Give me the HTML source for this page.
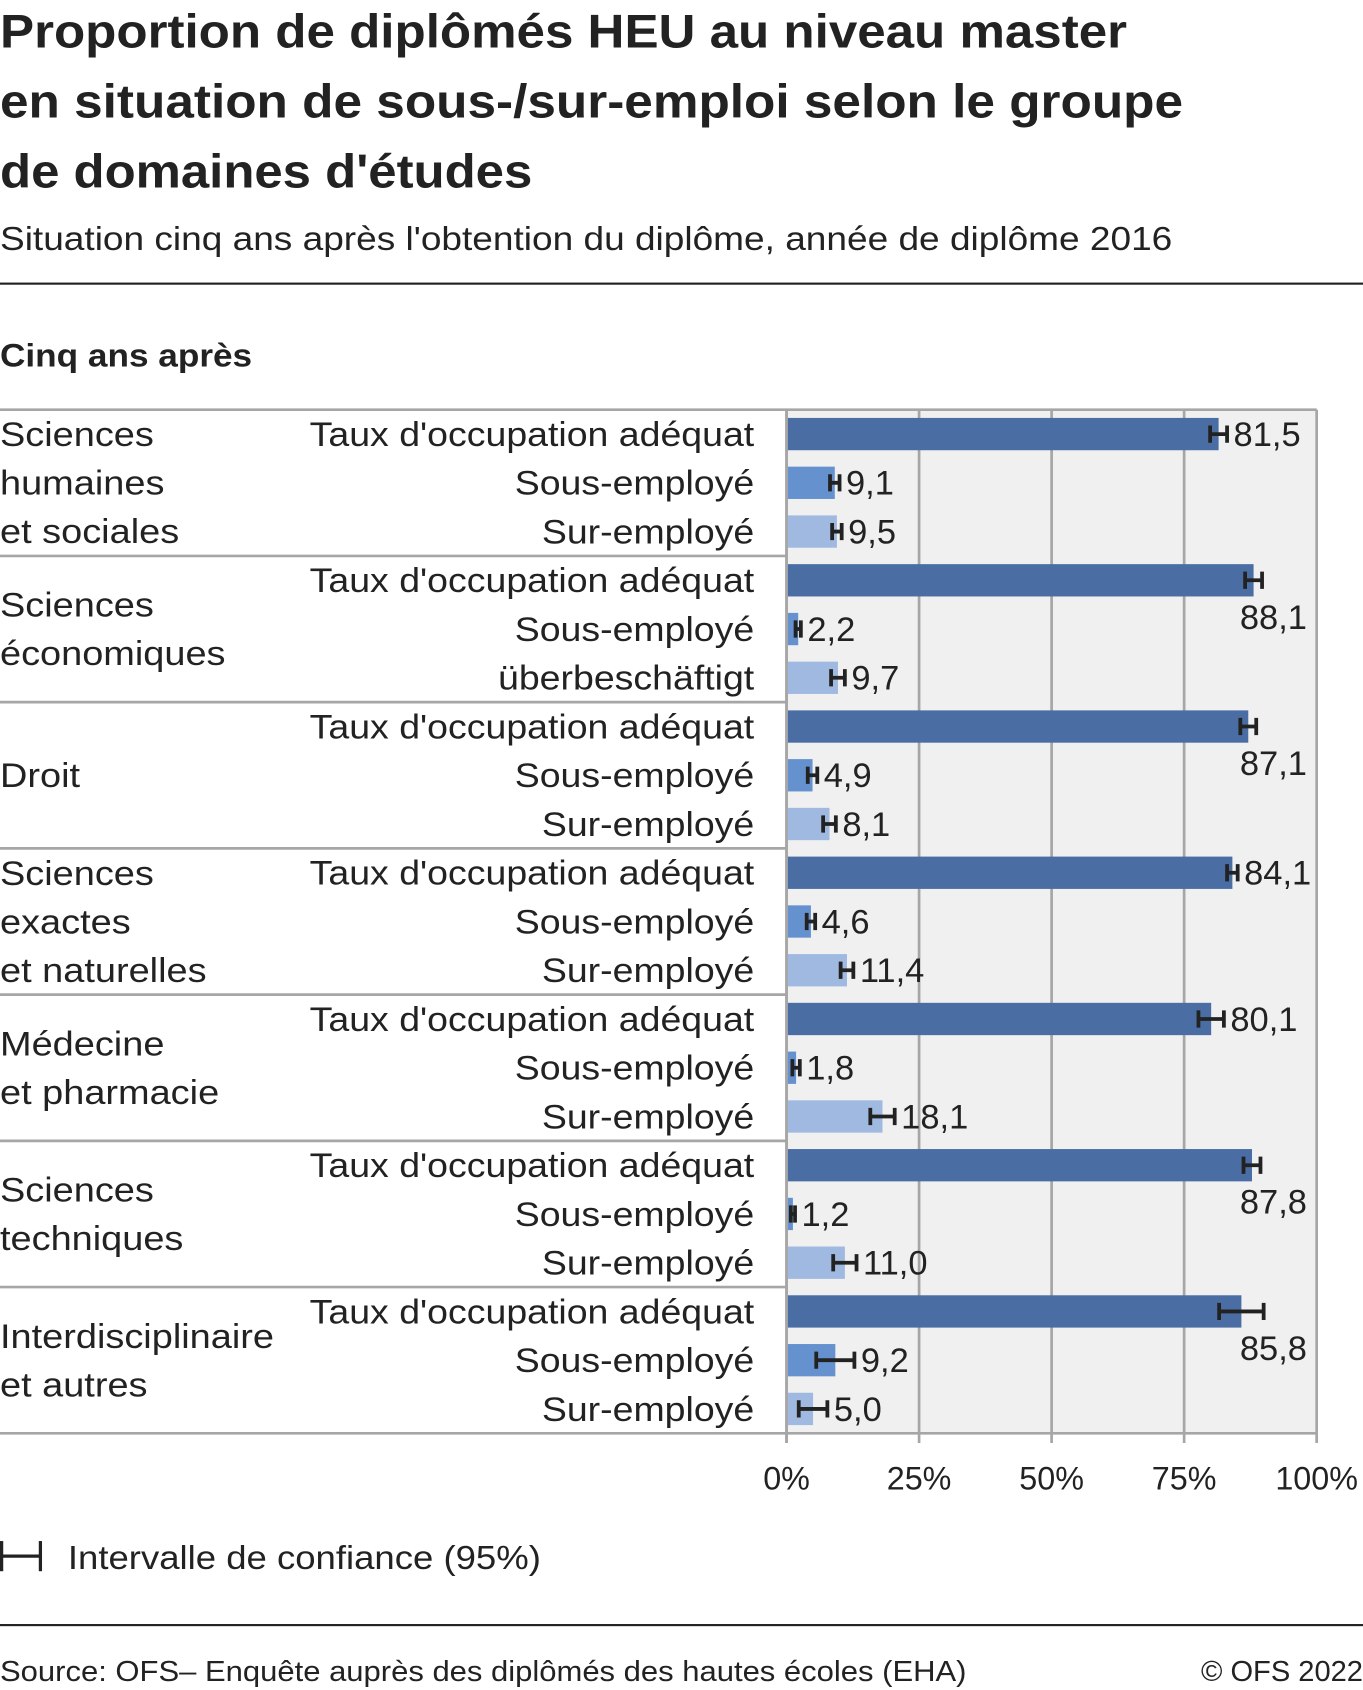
<!DOCTYPE html>
<html><head><meta charset="utf-8">
<style>
html,body{margin:0;padding:0;background:#fff;}
svg{display:block;}
text{font-family:"Liberation Sans",sans-serif;fill:#222;}
</style></head>
<body>
<svg id="chart" width="1363" height="1690" viewBox="0 0 1265 1568" xmlns="http://www.w3.org/2000/svg">
<g font-weight="bold" font-size="44">
<text x="0" y="44" textLength="1046" lengthAdjust="spacingAndGlyphs">Proportion de diplômés HEU au niveau master</text>
<text x="0" y="109" textLength="1098" lengthAdjust="spacingAndGlyphs">en situation de sous-/sur-emploi selon le groupe</text>
<text x="0" y="174" textLength="494" lengthAdjust="spacingAndGlyphs">de domaines d'études</text>
</g>
<text x="0" y="232" font-size="31" textLength="1088" lengthAdjust="spacingAndGlyphs">Situation cinq ans après l'obtention du diplôme, année de diplôme 2016</text>
<rect x="0" y="262" width="1265" height="2" fill="#222"/>
<text x="0" y="340" font-size="30" font-weight="bold" textLength="234" lengthAdjust="spacingAndGlyphs">Cinq ans après</text>
<g id="plot"></g>
<g>
<line x1="1" y1="1444" x2="38" y2="1444" stroke="#222" stroke-width="3"/>
<line x1="1.5" y1="1430" x2="1.5" y2="1458" stroke="#222" stroke-width="3"/>
<line x1="37.5" y1="1430" x2="37.5" y2="1458" stroke="#222" stroke-width="3"/>
<text x="63" y="1456" font-size="31" textLength="439" lengthAdjust="spacingAndGlyphs">Intervalle de confiance (95%)</text>
</g>
<rect x="0" y="1507" width="1265" height="2" fill="#222"/>
<text x="0" y="1560" font-size="27" textLength="897" lengthAdjust="spacingAndGlyphs">Source: OFS– Enquête auprès des diplômés des hautes écoles (EHA)</text>
<text x="1265" y="1560" font-size="27" text-anchor="end">© OFS 2022</text>
</svg>
<script>
const groups = [["Sciences","humaines","et sociales"],["Sciences","économiques"],["Droit"],["Sciences","exactes","et naturelles"],["Médecine","et pharmacie"],["Sciences","techniques"],["Interdisciplinaire","et autres"]];
const rowLabels = [
 ["Taux d'occupation adéquat","Sous-employé","Sur-employé"],
 ["Taux d'occupation adéquat","Sous-employé","überbeschäftigt"],
 ["Taux d'occupation adéquat","Sous-employé","Sur-employé"],
 ["Taux d'occupation adéquat","Sous-employé","Sur-employé"],
 ["Taux d'occupation adéquat","Sous-employé","Sur-employé"],
 ["Taux d'occupation adéquat","Sous-employé","Sur-employé"],
 ["Taux d'occupation adéquat","Sous-employé","Sur-employé"]];
const adequat = [81.5, 88.1, 87.1, 84.1, 80.1, 87.8, 85.8];
const sousEmploye = [9.1, 2.2, 4.9, 4.6, 1.8, 1.2, 9.2];
const surEmploye = [9.5, 9.7, 8.1, 11.4, 18.1, 11.0, 5.0];
const adequatCI = [1.6, 1.6, 1.5, 1.0, 2.4, 1.6, 4.2];
const sousCI = [0.9, 0.5, 0.9, 0.8, 0.7, 0.4, 3.6];
const surCI = [0.9, 1.3, 1.2, 1.2, 2.3, 2.2, 2.7];
const ticks = [0, 25, 50, 75, 100];
const tickLabels = ["0%","25%","50%","75%","100%"];

const NS = "http://www.w3.org/2000/svg";
const plot = document.getElementById('plot');
const X0 = 730, X1 = 1222, Y0 = 380, Y1 = 1330;
const x = v => X0 + (X1 - X0) * v / 100;
const gH = (Y1 - Y0) / groups.length, rH = gH / 3;
function mk(tag, attrs, parent){ const e = document.createElementNS(NS, tag); for (const k in attrs) e.setAttribute(k, attrs[k]); (parent||plot).appendChild(e); return e; }
function fmt(v){ return v.toFixed(1).replace('.', ','); }
function widen(t, f){ const w = t.getComputedTextLength(); if (w > 0) { t.setAttribute('textLength', (w*f).toFixed(1)); t.setAttribute('lengthAdjust', 'spacingAndGlyphs'); } }

const bg = mk('rect', {x:X0, y:Y0, width:X1-X0, height:Y1-Y0, fill:'#f0f0f0'});


ticks.forEach((t, i) => {
  const gl = mk('line', {x1:x(t), x2:x(t), y1:Y0, y2:Y1+9, stroke:'#a6a6a6', 'stroke-width':2.5});
  
  
  const tl = mk('text', {x:x(t), y:1382, 'font-size':30, 'text-anchor':'middle'});
  tl.textContent = tickLabels[i];
  
  
});
const series = [[adequat, adequatCI, '#4a6ea4'], [sousEmploye, sousCI, '#6592cf'], [surEmploye, surCI, '#a0b9e0']];
groups.forEach((g, gi) => {
  const gy = Y0 + gi * gH;
  const sep = mk('line', {x1:0, x2:gi===0?X1:X0, y1:gy, y2:gy, stroke:'#a6a6a6', 'stroke-width':2.5});
  
  
  const lineH = 45;
  const startY = gy + gH/2 - (g.length-1)*lineH/2 + 11;
  g.forEach((ln, li) => {
    const t = mk('text', {x:0, y:startY + li*lineH, 'font-size':32});
    t.textContent = ln;
    
    
    widen(t, 1.1);
  });
  series.forEach((s, si) => {
    const cy = gy + rH*si + rH/2;
    const v = s[0][gi], ci = s[1][gi];
    const rl = mk('text', {x:700, y:cy+11, 'font-size':32, 'text-anchor':'end'});
    rl.textContent = rowLabels[gi][si];
    
    
    widen(rl, 1.087);
    const b = mk('rect', {x:X0+1, y:cy-15, width:x(v)-X0-1, height:30, fill:s[2]});
    
    
    const lo = x(v-ci), hi = x(v+ci);
    const e1 = mk('path', {d:`M${lo},${cy}H${hi}M${lo},${cy-8}V${cy+8}M${hi},${cy-8}V${cy+8}`, stroke:'#222', 'stroke-width':3.5, fill:'none'});
    
    
    const label = fmt(v);
    let vl;
    if (hi + 6 + label.length*15 > X1 + 2) {
      vl = mk('text', {x:1213, y:cy+45, 'font-size':32, 'text-anchor':'end'});
    } else {
      vl = mk('text', {x:hi+6, y:cy+11, 'font-size':32});
    }
    vl.textContent = label;
    
    
  });
});
const bl = mk('line', {x1:0, x2:X1, y1:Y1, y2:Y1, stroke:'#a6a6a6', 'stroke-width':2.5});


const rb = mk('line', {x1:X0, x2:X0, y1:Y0, y2:Y1+9, stroke:'#a6a6a6', 'stroke-width':2.5});


</script>
</body></html>
